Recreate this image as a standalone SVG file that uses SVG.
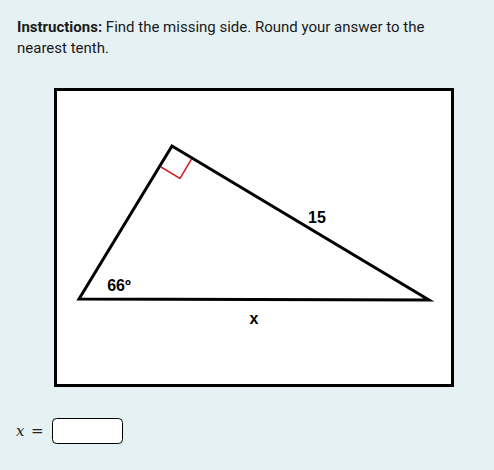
<svg xmlns="http://www.w3.org/2000/svg" width="494" height="470" viewBox="0 0 494 470">
<style>
.ins{font-family:Roboto,"Liberation Sans",sans-serif;font-size:15px;fill:#1a1a1a}
.lbl{font-family:"Liberation Sans",Arial,sans-serif;font-size:16px;font-weight:bold;fill:#000;text-anchor:middle}
.edge{stroke:#000;stroke-width:3;fill:none;stroke-linejoin:miter}
</style>
<rect width="494" height="470" fill="#e6f1f4"/>
<text class="ins" x="17" y="32"><tspan font-weight="bold">Instructions:</tspan> Find the missing side. Round your answer to the</text>
<text class="ins" x="17" y="53">nearest tenth.</text>
<g id="frame">
<rect x="55.5" y="89.5" width="397" height="296" fill="#fff" stroke="#000" stroke-width="3"/>
</g>
<g id="triangle">
<polygon class="edge" points="172,146 79,299 429,300"/>
<polyline points="161,167 180,178.5 191.5,159" fill="none" stroke="#d0202a" stroke-width="1.5"/>
</g>
<g id="labels">
<text class="lbl" x="317" y="223">15</text>
<text class="lbl" x="119" y="291">66º</text>
<text class="lbl" x="254" y="324">x</text>
</g>
<g id="answer">
<text x="16" y="436" font-family="'DejaVu Serif','Liberation Serif',serif" font-style="italic" font-size="15" fill="#222">x</text>
<text x="31" y="436" font-family="'DejaVu Serif','Liberation Serif',serif" font-size="15" fill="#222">=</text>
<rect x="52.5" y="418.5" width="70" height="25" rx="4" fill="#fff" stroke="#000" stroke-width="1"/>
</g>
</svg>
